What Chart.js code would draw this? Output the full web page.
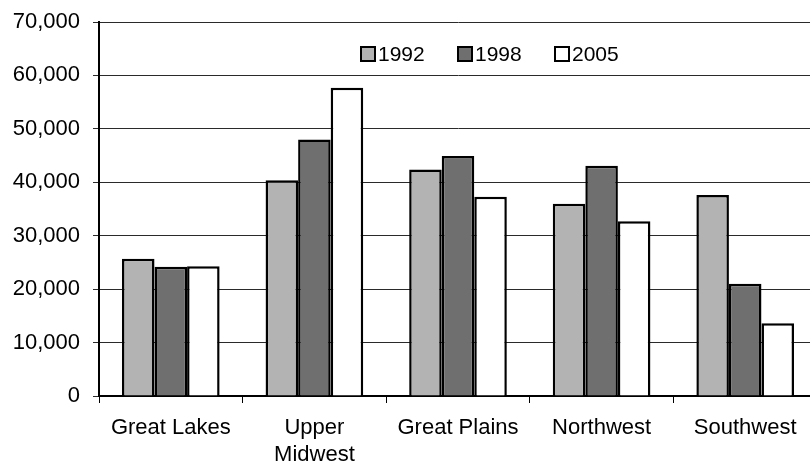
<!DOCTYPE html>
<html>
<head>
<meta charset="utf-8">
<script src="https://cdn.jsdelivr.net/npm/chart.js@4/dist/chart.umd.min.js"></script>
<style>
  html, body { margin: 0; padding: 0; background: #fff; overflow: hidden; }
  #wrap { width: 810px; height: 463px; overflow: hidden; }
</style>
</head>
<body>
<div id="wrap"><canvas id="grafico" width="817" height="463"></canvas></div>
<script>
// dados
const regioes = ['Great Lakes', ['Upper', 'Midwest'], 'Great Plains', 'Northwest', 'Southwest'];
const anos = ['1992', '1998', '2005'];
const v1992 = [25700, 40400, 42400, 36000, 37600];
const v1998 = [24200, 48000, 44900, 43100, 21000];
const v2005 = [24300, 57700, 37300, 32700, 13600];
const ticksY = [0, 10000, 20000, 30000, 40000, 50000, 60000, 70000];

const cores = ['#b3b3b3', '#6f6f6f', '#ffffff'];
const fonte = 'Liberation Sans, Arial, sans-serif';

// legenda desenhada dentro da área do gráfico
const legendaInterna = {
  id: 'legendaInterna',
  afterDraw(chart) {
    const c = chart.ctx;
    c.save();
    c.font = '21px ' + fonte;
    c.textBaseline = 'middle';
    chart.data.datasets.forEach((ds, i) => {
      const x = 361 + i * 97;
      const y = 54;
      c.fillStyle = ds.backgroundColor;
      c.fillRect(x, y - 7, 14, 14);
      c.lineWidth = 2;
      c.strokeStyle = '#000';
      c.strokeRect(x, y - 7, 14, 14);
      c.fillStyle = '#000';
      c.fillText(ds.label, x + 17, y + 1);
    });
    c.restore();
  }
};

const ctx = document.getElementById('grafico').getContext('2d');
new Chart(ctx, {
  type: 'bar',
  data: {
    labels: regioes,
    datasets: [
      { label: anos[0], data: v1992, backgroundColor: cores[0] },
      { label: anos[1], data: v1998, backgroundColor: cores[1] },
      { label: anos[2], data: v2005, backgroundColor: cores[2] }
    ].map(d => Object.assign(d, { borderColor: '#000', borderWidth: 2.5, borderSkipped: 'bottom' }))
  },
  options: {
    responsive: false,
    animation: false,
    layout: { padding: { top: 22, right: 0, left: 0, bottom: 0 } },
    datasets: { bar: { categoryPercentage: 0.68, barPercentage: 1.0 } },
    plugins: {
      legend: { display: false },
      tooltip: { enabled: false }
    },
    scales: {
      x: {
        afterFit: s => { s.height = 67; },
        grid: { display: true, drawOnChartArea: false, tickLength: 7, color: '#000', offset: true },
        border: { display: true, color: '#000', width: 2 },
        ticks: { color: '#000', font: { family: fonte, size: 22 }, padding: 12, maxRotation: 0 }
      },
      y: {
        min: 0,
        max: 70000,
        afterFit: s => { s.width = 99; s.paddingTop = 0; s.paddingBottom = 0; },
        afterBuildTicks: s => { s.ticks = ticksY.map(v => ({ value: v })); },
        grid: { color: '#2a2a2a', lineWidth: 1, tickLength: 6 },
        border: { display: true, color: '#000', width: 2 },
        ticks: {
          color: '#000',
          font: { family: fonte, size: 22 },
          padding: 13,
          callback: v => v.toLocaleString('en-US')
        }
      }
    }
  },
  plugins: [legendaInterna]
});
</script>
</body>
</html>
